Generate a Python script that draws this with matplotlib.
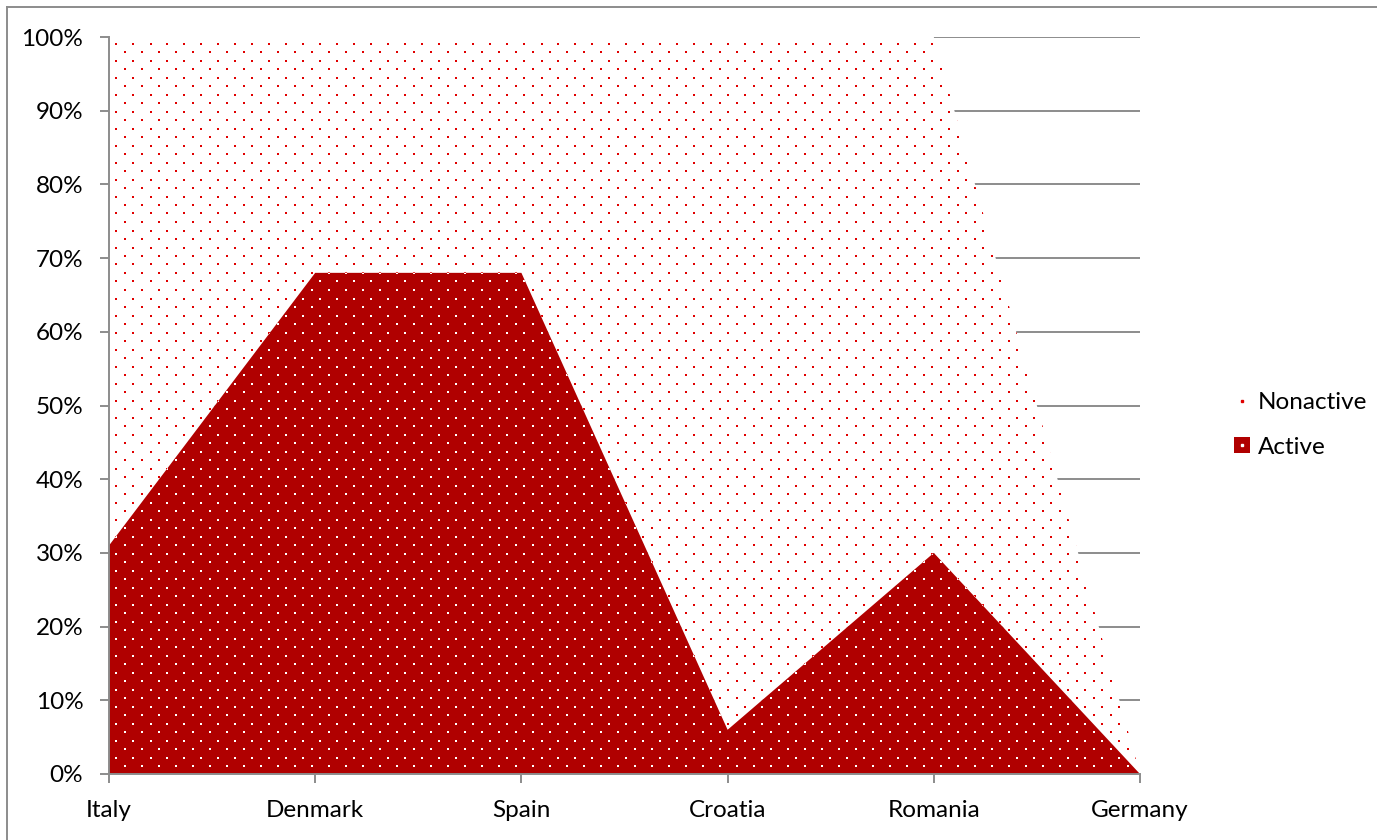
import matplotlib
matplotlib.use("Agg")
import numpy as np
import matplotlib.pyplot as plt
from matplotlib.lines import Line2D
from matplotlib.patches import Patch
from matplotlib.ticker import PercentFormatter

plt.rcParams['font.family'] = ['Lato', 'DejaVu Sans']

countries = ["Italy", "Denmark", "Spain", "Croatia", "Romania", "Germany"]
active = [31, 68, 68, 6, 30, 0]
nonactive = [69, 32, 32, 94, 70, 0]

ACTIVE_RED = "#B00000"
DOT_RED = "#E00000"
GREY = "#8C8C8C"

W, H = 1377, 840
AX_L, AX_R, AX_T, AX_B = 109, 1140, 37, 774
fig = plt.figure(figsize=(W / 100, H / 100), dpi=100)
ax = fig.add_axes([AX_L / W, 1 - AX_B / H, (AX_R - AX_L) / W, (AX_B - AX_T) / H])

x = list(range(len(countries)))
top = [a + n for a, n in zip(active, nonactive)]

ax.set_xlim(0, len(countries) - 1)
ax.set_ylim(0, 100)

# stacked areas
upper = ax.fill_between(x, active, top, facecolor="white", linewidth=0, zorder=2)
lower = ax.fill_between(x, 0, active, facecolor=ACTIVE_RED, linewidth=0, zorder=3)

# dotted texture: staggered lattice in pixels, 17 px across, rows 8.5 px apart
step = 17.0
px_x, px_y = [], []
for j in range(-30, 70):
    yy = 256 + j * step / 2
    shift = 0 if j % 2 == 0 else step / 2
    for i in range(-10, 60):
        px_x.append(261 + i * step + shift)
        px_y.append(yy)
px_x, px_y = np.array(px_x), np.array(px_y)
dx = (px_x - AX_L) / (AX_R - AX_L) * (len(countries) - 1)
dy = (AX_B - px_y) / (AX_B - AX_T) * 100

for poly, colour, z in ((upper, DOT_RED, 2.5), (lower, "white", 3.5)):
    dots = ax.scatter(dx, dy, s=4.0, marker="s", color=colour, linewidths=0, zorder=z)
    dots.set_clip_path(poly.get_paths()[0], ax.transData)

ax.set_xticks(x)
ax.set_xticklabels(countries)
ax.set_yticks(range(0, 101, 10))
ax.yaxis.set_major_formatter(PercentFormatter(decimals=0))

ax.grid(axis="y", color=GREY, linewidth=1.4, zorder=0)
ax.set_axisbelow(True)
for side in ("top", "right"):
    ax.spines[side].set_visible(False)
for side in ("left", "bottom"):
    ax.spines[side].set_color(GREY)
    ax.spines[side].set_linewidth(1.4)
    ax.spines[side].set_zorder(5)
ax.tick_params(axis="both", colors=GREY, labelcolor="black", labelsize=17.5,
               length=6.5, width=1.4, direction="out")
ax.tick_params(axis="y", pad=12)
ax.tick_params(axis="x", pad=12)

# legend swatches: plain square plus one centred dot
handles = [
    (Patch(facecolor="white", linewidth=0),
     Line2D([], [], marker="s", markersize=1.6, color=DOT_RED, linestyle="")),
    (Patch(facecolor=ACTIVE_RED, linewidth=0),
     Line2D([], [], marker="s", markersize=1.6, color="white", linestyle="")),
]
fig.legend(handles=handles, labels=["Nonactive", "Active"], loc="center left",
           bbox_to_anchor=(1212 / W, 1 - 425 / H), frameon=False, fontsize=17.5,
           handlelength=0.65, handleheight=0.65, handletextpad=0.35, labelspacing=0.95)

# outer chart border
fig.add_artist(Line2D([7 / W, 1.0], [1 - 7 / H, 1 - 7 / H], color=GREY, linewidth=1.4))
fig.add_artist(Line2D([7 / W, 7 / W], [0.0, 1 - 7 / H], color=GREY, linewidth=1.4))

fig.savefig("out.png", dpi=100)
